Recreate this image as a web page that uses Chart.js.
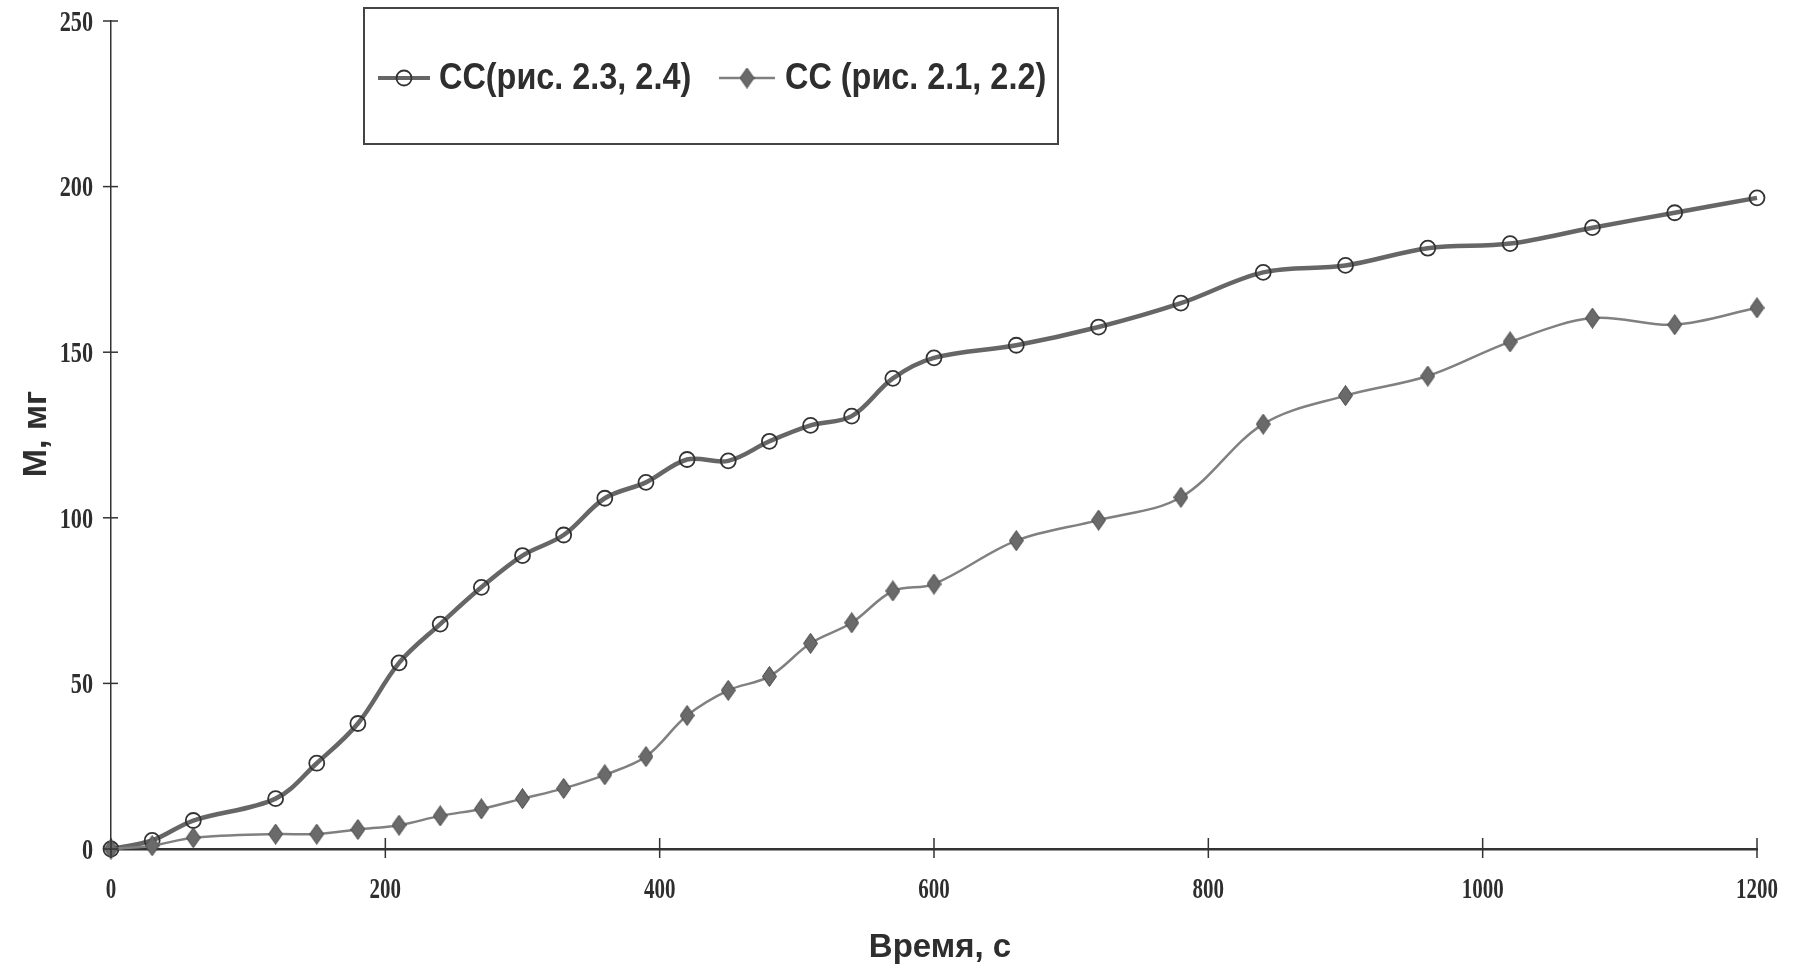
<!DOCTYPE html>
<html>
<head>
<meta charset="utf-8">
<script src="https://cdn.jsdelivr.net/npm/chart.js@4/dist/chart.umd.min.js"></script>
<style>
  html, body { margin: 0; padding: 0; background: #fff; }
  .wrap { position: relative; width: 1796px; height: 967px; }
</style>
</head>
<body>
<div class="wrap"><canvas id="myChart"></canvas></div>
<script>
// время отбора проб, с
const times = [0, 30, 60, 120, 150, 180, 210, 240, 270, 300, 330, 360, 390, 420, 450,
  480, 510, 540, 570, 600, 660, 720, 780, 840, 900, 960, 1020, 1080, 1140, 1200];

// масса, мг
const ccFig23 = [0, 2.6, 8.6, 15.2, 25.9, 37.9, 56.2, 67.9, 79, 88.6, 94.8, 105.9, 110.7,
  117.6, 117.2, 123.1, 127.9, 130.7, 142.1, 148.3, 152.1, 157.6, 164.8, 174.1, 176.2,
  181.4, 182.8, 187.6, 192.1, 196.6];
const ccFig21 = [0, 1, 3.4, 4.5, 4.5, 5.9, 7.2, 10, 12.1, 15.2, 18.3, 22.4, 27.9, 40.3,
  47.9, 52.1, 62.1, 68.3, 77.9, 80, 93.1, 99.3, 106.2, 128.3, 136.9, 142.8, 153.1, 160.3,
  158.3, 163.4];

const seriesNames = ['СС(рис. 2.3, 2.4)', 'СС (рис. 2.1, 2.2)'];
const xTicks = [0, 200, 400, 600, 800, 1000, 1200];
const yTicks = [0, 50, 100, 150, 200, 250];

const toPoints = (ys) => times.map((t, i) => ({ x: t, y: ys[i] }));

// ромбик чуть вытянут по вертикали, как в Excel
function makeDiamond() {
  const c = document.createElement('canvas');
  c.width = 15; c.height = 21;
  const g = c.getContext('2d');
  g.beginPath();
  g.moveTo(7.5, 0.5); g.lineTo(14.5, 10.5); g.lineTo(7.5, 20.5); g.lineTo(0.5, 10.5);
  g.closePath();
  g.fillStyle = '#6a6a6a';
  g.fill();
  g.strokeStyle = '#474747';
  g.lineWidth = 1;
  g.stroke();
  return c;
}
const diamond = makeDiamond();

function narrowText(ctx, text, x, y, font, align, sx) {
  ctx.save();
  ctx.translate(x, y);
  ctx.scale(sx, 1);
  ctx.font = font;
  ctx.textAlign = align;
  ctx.textBaseline = 'middle';
  ctx.fillText(text, 0, 0);
  ctx.restore();
}

const decor = {
  id: 'decor',
  afterDraw(chart) {
    const ctx = chart.ctx;
    const xs = chart.scales.x, ys = chart.scales.y;
    const area = chart.chartArea;
    ctx.save();
    ctx.strokeStyle = '#333';
    ctx.lineWidth = 1.5;
    ctx.fillStyle = '#2e2e2e';

    // засечки и подписи оси X
    xTicks.forEach((v) => {
      const px = xs.getPixelForValue(v);
      ctx.beginPath();
      ctx.moveTo(px, area.bottom - 11);
      ctx.lineTo(px, area.bottom + 9);
      ctx.stroke();
      narrowText(ctx, String(v), px, area.bottom + 41, 'bold 30px "Liberation Serif"', 'center', 0.7);
    });

    // засечки и подписи оси Y
    yTicks.forEach((v) => {
      const py = ys.getPixelForValue(v);
      ctx.beginPath();
      ctx.moveTo(area.left - 8, py);
      ctx.lineTo(area.left + 7, py);
      ctx.stroke();
      narrowText(ctx, String(v), area.left - 18, py + 2, 'bold 30px "Liberation Serif"', 'right', 0.74);
    });

    // названия осей
    ctx.fillStyle = '#2e2e2e';
    ctx.font = 'bold 33px "Liberation Sans"';
    ctx.textAlign = 'center';
    ctx.textBaseline = 'alphabetic';
    ctx.fillText('Время, с', 940, 957);

    ctx.save();
    ctx.translate(46, 434);
    ctx.rotate(-Math.PI / 2);
    ctx.font = 'bold 34px "Liberation Sans"';
    ctx.fillText('М, мг', 0, 0);
    ctx.restore();

    // легенда в рамке
    ctx.strokeStyle = '#444';
    ctx.lineWidth = 2;
    ctx.strokeRect(364, 8, 694, 136);

    const ly = 78;
    ctx.strokeStyle = '#666';
    ctx.lineWidth = 4;
    ctx.beginPath(); ctx.moveTo(378, ly); ctx.lineTo(430, ly); ctx.stroke();
    ctx.strokeStyle = '#333';
    ctx.lineWidth = 1.8;
    ctx.beginPath(); ctx.arc(404, ly, 7.5, 0, Math.PI * 2); ctx.stroke();

    ctx.strokeStyle = '#808080';
    ctx.lineWidth = 2.5;
    ctx.beginPath(); ctx.moveTo(719, ly); ctx.lineTo(775, ly); ctx.stroke();
    ctx.drawImage(diamond, 747 - diamond.width / 2, ly - diamond.height / 2);

    ctx.fillStyle = '#2e2e2e';
    narrowText(ctx, seriesNames[0], 439, ly + 1, 'bold 36px "Liberation Sans"', 'left', 0.9);
    narrowText(ctx, seriesNames[1], 785, ly + 1, 'bold 36px "Liberation Sans"', 'left', 0.9);
    ctx.restore();
  }
};

const ctx = document.getElementById('myChart').getContext('2d');
new Chart(ctx, {
  type: 'line',
  data: {
    datasets: [
      {
        label: seriesNames[0],
        data: toPoints(ccFig23),
        borderColor: '#666',
        borderWidth: 4.5,
        pointStyle: 'circle',
        pointRadius: 7.5,
        pointBorderColor: '#333',
        pointBorderWidth: 1.8,
        pointBackgroundColor: 'rgba(0,0,0,0)',
        tension: 0.35,
        clip: false,
        order: 1,
      },
      {
        label: seriesNames[1],
        data: toPoints(ccFig21),
        borderColor: '#808080',
        borderWidth: 2.5,
        pointStyle: diamond,
        pointRadius: 8,
        tension: 0.35,
        clip: false,
        order: 0,
      },
    ],
  },
  options: {
    responsive: true,
    maintainAspectRatio: false,
    animation: false,
    layout: {
      padding: { left: 111, right: 39, top: 21, bottom: 118 },
    },
    plugins: {
      legend: { display: false },
      tooltip: { enabled: false },
    },
    scales: {
      x: {
        type: 'linear',
        min: 0,
        max: 1200,
        ticks: { display: false, stepSize: 200 },
        grid: { drawOnChartArea: false, drawTicks: false },
        border: { color: '#333', width: 2.5 },
      },
      y: {
        min: 0,
        max: 250,
        ticks: { display: false, stepSize: 50 },
        grid: { drawOnChartArea: false, drawTicks: false },
        border: { color: '#333', width: 1.5 },
      },
    },
  },
  plugins: [decor],
});
</script>
</body>
</html>
